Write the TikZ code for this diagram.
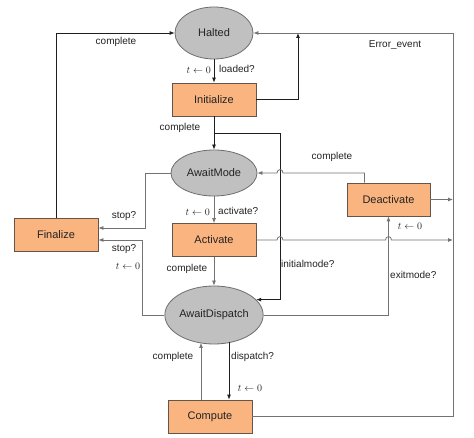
\documentclass[tikz,border=0pt]{standalone}
\usepackage[no-math]{fontspec}
\setmainfont{Liberation Sans}
\usetikzlibrary{shapes.geometric,arrows.meta}
\definecolor{stgray}{RGB}{192,192,192}
\definecolor{stline}{RGB}{110,110,110}
\definecolor{boxfill}{RGB}{250,180,128}
\definecolor{boxline}{RGB}{100,85,75}
\definecolor{lnblack}{RGB}{30,30,30}
\definecolor{lngray}{RGB}{115,115,115}
\definecolor{txt}{RGB}{35,35,35}
\begin{document}
\begin{tikzpicture}[x=1pt,y=-1pt,
  st/.style={ellipse,draw=stline,fill=stgray,line width=0.8pt,inner sep=0pt,
    font=\fontsize{11}{12}\selectfont,text=txt},
  bx/.style={rectangle,draw=boxline,fill=boxfill,line width=0.8pt,inner sep=0pt,
    minimum width=84pt,minimum height=33pt,font=\fontsize{11}{12}\selectfont,text=txt},
  ln/.style={line width=0.8pt,draw=lnblack},
  lg/.style={line width=0.8pt,draw=lngray},
  arr/.style={-{Latex[length=5pt,width=4pt]}},
  lab/.style={font=\fontsize{10}{12}\selectfont,text=txt,inner sep=0pt},
  mlab/.style={font=\fontsize{10}{12}\selectfont,text=txt,inner sep=0pt}
]
\useasboundingbox (0,0) rectangle (474,438);
\fill[white] (0,0) rectangle (474,438);

% states
\node[st,minimum width=78pt,minimum height=52pt] (Halted) at (214,33) {Halted};
\node[bx] (Initialize) at (214,99.5) {Initialize};
\node[st,minimum width=86pt,minimum height=46pt] (AwaitMode) at (214,173) {AwaitMode};
\node[bx] (Activate) at (214,240) {Activate};
\node[st,minimum width=90pt,minimum height=58pt] (AwaitDispatch) at (214,315) {AwaitDispatch};
\node[bx] (Compute) at (210,416.5) {Compute};
\node[bx] (Finalize) at (56,235) {Finalize};
\node[bx,minimum width=83pt] (Deactivate) at (388.5,199.5) {Deactivate};

% helper coordinates
\coordinate (j1) at (298,33);
\coordinate (eR) at (453,33);
\coordinate (b1) at (214,133);
\coordinate (b2) at (280,133);
\coordinate (r1) at (453,199.5);
\coordinate (r2) at (453,240);

% Halted -> Initialize
\draw[ln,arr] (Halted) -- (Initialize);
% Finalize -> Halted
\draw[ln,arr] (Finalize.north) |- (Halted.west);
% Initialize -> Halted
\draw[ln,arr] (Initialize.east) -| (j1);
% Error_event
\draw[lg,arr] (Compute.east) -| (eR) -- (Halted.east);
% Initialize -> AwaitMode
\draw[ln,arr] (Initialize) -- (AwaitMode);
% initialmode
\draw[ln,arr] (b1) -- (b2) |- (AwaitDispatch.20);
% Deactivate -> AwaitMode
\draw[lg,arr] ([xshift=-24pt]Deactivate.north) -- (364.5,173) -- (283,173)
  .. controls (283,168.5) and (277,168.5) .. (277,173) -- (AwaitMode.east);
% Deactivate -> right
\draw[lg,arr] (Deactivate.east) -- (r1);
% Activate -> right
\draw[lg,arr] (Activate.east) -- (277,240) .. controls (277,235.5) and (283,235.5) .. (283,240)
  -- (385.5,240) .. controls (385.5,235.5) and (391.5,235.5) .. (391.5,240) -- (r2);
% AwaitMode -> Activate
\draw[lg,arr] (AwaitMode) -- (Activate);
% AwaitMode -> Finalize
\draw[lg,arr] (AwaitMode.west) -- ++(-25,0) |- ([yshift=7pt]Finalize.east);
% AwaitDispatch -> Finalize
\draw[lg,arr] (AwaitDispatch.west) -- ++(-22,0) |- ([yshift=-5pt]Finalize.east);
% Activate -> AwaitDispatch
\draw[lg,arr] (Activate) -- (AwaitDispatch);
% AwaitDispatch -> Deactivate
\draw[lg,arr] (AwaitDispatch.east) -| (Deactivate.south);
% Compute -> AwaitDispatch
\draw[lg,arr] ([xshift=-9pt]Compute.north) -- ([xshift=-9pt,yshift=1.5pt]Compute.north |- AwaitDispatch.south);
% AwaitDispatch -> Compute
\draw[ln,arr] ([xshift=19pt,yshift=2pt]Compute.north |- AwaitDispatch.south) -- ([xshift=19pt]Compute.north);

% labels
\node[mlab,anchor=east] (l1) at (211,70) {$t\leftarrow 0$};
\node[lab,anchor=west] (l2) at (219,69) {loaded?};
\node[lab] (l3) at (116,42) {complete};
\node[lab] (l4) at (180,128) {complete};
\node[lab] (l5) at (395,45) {Error\_event};
\node[lab] (l6) at (332,157) {complete};
\node[mlab,anchor=east] (l7) at (210,212) {$t\leftarrow 0$};
\node[lab,anchor=west] (l8) at (218,211) {activate?};
\node[lab] (l9) at (124,216) {stop?};
\node[lab] (l10) at (124,249) {stop?};
\node[mlab] (l11) at (128,266) {$t\leftarrow 0$};
\node[lab] (l12) at (187,269) {complete};
\node[lab,anchor=west] (l13) at (281,264) {initialmode?};
\node[lab,anchor=west] (l14) at (390,275) {exitmode?};
\node[mlab] (l15) at (410,226) {$t\leftarrow 0$};
\node[lab] (l16) at (173,357) {complete};
\node[lab,anchor=west] (l17) at (231,357) {dispatch?};
\node[mlab] (l18) at (250,388) {$t\leftarrow 0$};
\end{tikzpicture}
\end{document}
